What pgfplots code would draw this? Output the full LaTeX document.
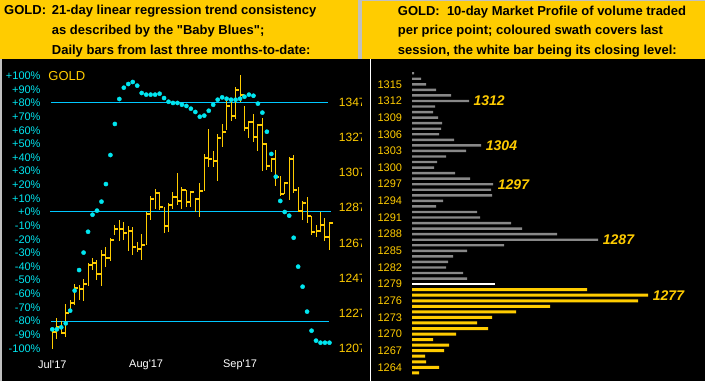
\documentclass[border=0pt]{standalone}
\usepackage{fontspec}
\setmainfont{Liberation Sans}
\usepackage{pgfplots}
\usepackage{pgfplotstable}
\pgfplotsset{compat=1.18}
\definecolor{hdr}{RGB}{255,204,0}
\definecolor{gld}{RGB}{255,204,0}
\definecolor{cyl}{RGB}{0,200,255}
\definecolor{cyd}{RGB}{0,230,240}
\definecolor{frm}{RGB}{192,192,192}
\definecolor{pgray}{RGB}{136,136,136}
\pgfdeclareplotmark{closetick}{\pgfpathmoveto{\pgfpointorigin}\pgfpathlineto{\pgfpoint{3.6pt}{0pt}}\pgfusepathqstroke}

\pgfplotstableread{
i H L C
0 1217.4 1206.6 1216.4
1 1224.1 1212.1 1219.0
2 1222.7 1215.0 1215.9
3 1232.2 1213.6 1227.3
4 1234.5 1228.8 1233.0
5 1243.4 1231.8 1241.1
6 1243.0 1234.5 1240.6
7 1246.4 1234.1 1243.8
8 1255.7 1242.6 1254.4
9 1258.2 1251.6 1255.4
10 1257.3 1245.9 1249.1
11 1262.9 1242.6 1260.1
12 1264.7 1253.4 1258.6
13 1269.6 1256.9 1268.6
14 1277.2 1271.5 1275.1
15 1280.0 1268.2 1274.7
16 1278.7 1268.6 1272.4
17 1276.6 1262.5 1273.9
18 1276.2 1260.1 1264.5
19 1267.7 1262.0 1263.3
20 1272.0 1257.3 1265.8
21 1284.7 1265.8 1283.3
22 1293.7 1280.0 1292.0
23 1297.5 1286.3 1295.2
24 1295.8 1285.7 1287.6
25 1287.2 1272.4 1276.8
26 1289.5 1273.4 1288.7
27 1295.8 1286.3 1293.3
28 1306.6 1288.6 1290.8
29 1299.0 1286.1 1297.1
30 1297.1 1287.6 1290.4
31 1296.5 1287.6 1296.1
32 1292.0 1284.7 1291.8
33 1300.9 1281.6 1296.7
34 1317.4 1296.5 1315.5
35 1331.8 1310.3 1314.7
36 1319.3 1310.3 1313.8
37 1328.8 1302.2 1326.9
38 1334.5 1321.7 1330.3
39 1349.8 1331.2 1345.1
40 1347.3 1336.5 1339.4
41 1355.5 1337.3 1354.2
42 1362.5 1347.3 1351.3
43 1344.9 1330.8 1332.2
44 1336.4 1326.9 1336.0
45 1340.2 1324.6 1327.4
46 1334.5 1319.3 1333.9
47 1337.9 1307.9 1323.4
48 1323.7 1308.5 1310.9
49 1315.1 1307.3 1314.7
50 1319.9 1299.4 1304.7
51 1305.1 1293.8 1294.6
52 1301.8 1294.6 1300.9
53 1316.0 1291.4 1314.6
54 1317.0 1295.2 1297.1
55 1298.6 1284.4 1284.9
56 1291.0 1280.0 1289.5
57 1293.3 1278.1 1282.3
58 1282.3 1271.5 1273.4
59 1277.2 1270.5 1273.9
60 1284.4 1273.4 1277.2
61 1281.0 1268.2 1270.5
62 1278.5 1262.7 1278.5
}\bars

\pgfplotstableread{
i b
0 -86.1
1 -86.1
2 -84.6
3 -81.7
4 -72.4
5 -57.7
6 -42.6
7 -29.8
8 -14.5
9 -2.0
10 1.0
11 7.6
12 20.5
13 41.8
14 64.6
15 82.9
16 91.2
17 93.9
18 95.4
19 92.7
20 87.3
21 86.1
22 86.1
23 86.1
24 86.8
25 83.6
26 80.9
27 80.0
28 80.0
29 78.7
30 77.8
31 75.8
32 73.4
33 69.9
34 70.7
35 74.3
36 78.7
37 82.4
38 84.1
39 83.1
40 82.4
41 82.4
42 83.1
43 84.6
44 86.1
45 85.3
46 79.5
47 72.9
48 58.9
49 42.6
50 25.9
51 8.1
52 0.0
53 -2.7
54 -18.9
55 -40.1
56 -54.8
57 -73.1
58 -87.1
59 -94.4
60 -95.9
61 -95.9
62 -95.9
}\blues

\pgfplotstableread{
p len
1317 2
1316 9
1315 14
1314 24
1313 39
1312 57
1311 23
1310 21
1309 26
1308 30
1307 29
1306 27
1305 42
1304 69
1303 54
1302 34
1301 25
1300 22
1299 43
1298 58
1297 81
1296 79
1295 80
1294 31
1293 24
1292 65
1291 68
1290 99
1289 110
1288 145
1287 186
1286 92
1285 55
1284 41
1283 36
1282 34
1281 51
1280 55
}\grayprof

\pgfplotstableread{
p len
1279 83
}\whiteprof

\pgfplotstableread{
p len
1278 175
1277 236
1276 226
1275 138
1274 104
1273 80
1272 65
1271 76
1270 44
1269 21
1268 37
1267 32
1266 13
1265 14
1264 27
1263 7
}\yellowprof

\begin{document}
\begin{tikzpicture}[x=1pt,y=1pt]
\useasboundingbox (0,0) rectangle (705,381);
\fill[frm] (0,0) rectangle (705,381);
\fill[hdr] (0,322) rectangle (357.5,381);
\fill[hdr] (362,322) rectangle (705,379.5);
\fill[black] (1.7,0) rectangle (705,322);

% header texts
\begin{scope}[every node/.style={anchor=base west, inner sep=0pt, font=\fontsize{13}{15}\selectfont\bfseries}]
\node at (4,366) {GOLD:};
\node at (51.7,366) {21-day linear regression trend consistency};
\node at (51.7,346.3) {as described by the \textquotedbl Baby Blues\textquotedbl;};
\node at (51.7,326.7) {Daily bars from last three months-to-date:};
\node at (397.7,365.5) {GOLD:\ \ 10-day Market Profile of volume traded};
\node at (397.7,346.3) {per price point; coloured swath covers last};
\node at (397.7,326.7) {session, the white bar being its closing level:};
\end{scope}

% left panel: reference lines (percent scale)
\begin{axis}[at={(47.83pt,0pt)}, anchor=south west, scale only axis,
  width=286.08pt, height=321pt, xmin=-1, xmax=63, ymin=-124, ymax=111.52,
  axis line style={draw=none}, xtick=\empty, ytick=\empty]
\addplot[cyl, line width=1pt] coordinates {(-0.2,80) (61.6,80)};
\addplot[cyl, line width=1pt] coordinates {(-0.5,0) (62.3,0)};
\addplot[cyl, line width=1pt] coordinates {(-0.2,-80) (62.0,-80)};
\end{axis}

% left panel: daily HLC bars (price scale)
\begin{axis}[at={(47.83pt,0pt)}, anchor=south west, scale only axis,
  width=286.08pt, height=321pt, xmin=-1, xmax=63, ymin=1188.39, ymax=1371.07,
  axis line style={draw=none}, xtick=\empty,
  ytick={1207,1227,...,1347}, yticklabel pos=right, major tick length=0pt,
  yticklabel style={anchor=west, inner sep=0pt, xshift=4.8pt, text=gld, font=\fontsize{12}{12}\selectfont},
  /pgf/number format/assume math mode=true, /pgf/number format/1000 sep={}]
\addplot[gld, only marks, mark=closetick, mark options={line width=2pt, solid},
  error bars/.cd, y dir=both, y explicit, error mark=none,
  error bar style={line width=1pt, gld}]
  table[x=i, y=C, y error plus expr=\thisrow{H}-\thisrow{C}, y error minus expr=\thisrow{C}-\thisrow{L}] {\bars};
\end{axis}

% left panel: baby blues (percent scale)
\begin{axis}[at={(47.83pt,0pt)}, anchor=south west, scale only axis,
  width=286.08pt, height=321pt, xmin=-1, xmax=63, ymin=-124, ymax=111.52,
  axis line style={draw=none}, major tick length=0pt,
  ytick={-100,-90,-80,-70,-60,-50,-40,-30,-20,-10,0,10,20,30,40,50,60,70,80,90,100},
  yticklabels={-100\%,-90\%,-80\%,-70\%,-60\%,-50\%,-40\%,-30\%,-20\%,-10\%,+0\%,+10\%,+20\%,+30\%,+40\%,+50\%,+60\%,+70\%,+80\%,+90\%,+100\%},
  yticklabel style={anchor=east, inner sep=0pt, xshift=-7.1pt, text=cyd, font=\fontsize{11}{11}\selectfont},
  xtick={0,21,42},
  xticklabels={Jul\textquotesingle17,Aug\textquotesingle17,Sep\textquotesingle17},
  xticklabel style={anchor=center, inner sep=0pt, yshift=16pt, text=white, font=\fontsize{11}{11}\selectfont}]
\addplot[cyd, only marks, mark=*, mark size=2.1pt] table[x=i, y=b] {\blues};
\end{axis}
\node[anchor=west, inner sep=0pt, text=gld, font=\fontsize{13}{13}\selectfont] at (48.3,305.3) {GOLD};

% right panel
\fill[black] (361.5,0) rectangle (705,322);
\draw[white, line width=1pt] (370,0) -- (370,322);
\begin{axis}[at={(412pt,0pt)}, anchor=south west, scale only axis,
  width=293pt, height=321pt, xmin=0, xmax=293, ymin=1261.54, ymax=1319.38,
  axis line style={draw=none}, xtick=\empty, major tick length=0pt,
  ytick={1264,1267,...,1315},
  yticklabel style={anchor=east, inner sep=0pt, xshift=-9.7pt, text=gld, font=\fontsize{11}{11}\selectfont},
  /pgf/number format/assume math mode=true, /pgf/number format/1000 sep={}]
\addplot[xbar, bar shift=0pt, bar width=2.4pt, fill=pgray, draw=none] table[x=len, y=p] {\grayprof};
\addplot[xbar, bar shift=0pt, bar width=2.4pt, fill=white, draw=none] table[x=len, y=p] {\whiteprof};
\addplot[xbar, bar shift=0pt, bar width=3pt, fill=gld, draw=none] table[x=len, y=p] {\yellowprof};
\begin{scope}[every node/.style={anchor=west, inner sep=0pt, text=gld, font=\fontsize{14}{14}\selectfont\bfseries\itshape}]
\node at (axis cs:61.3,1312) {1312};
\node at (axis cs:73.7,1304) {1304};
\node at (axis cs:85.7,1297) {1297};
\node at (axis cs:190.7,1287) {1287};
\node at (axis cs:240.7,1277) {1277};
\end{scope}
\node[anchor=east, inner sep=0pt, xshift=-9.7pt, text=gld, font=\fontsize{10.5}{10.5}\selectfont] at (axis cs:0,1318) {GOLD};
\end{axis}
\end{tikzpicture}
\end{document}
